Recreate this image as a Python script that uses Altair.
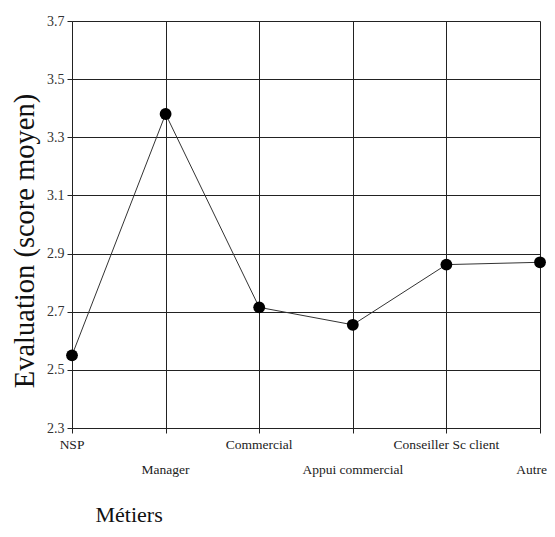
import altair as alt
import pandas as pd

categories = ["NSP", "Manager", "Commercial", "Appui commercial", "Conseiller Sc client", "Autre"]
scores = [2.55, 3.38, 2.715, 2.655, 2.862, 2.87]
label_row = [0, 1, 0, 1, 0, 1]
y_ticks = [2.3, 2.5, 2.7, 2.9, 3.1, 3.3, 3.5, 3.7]

df = pd.DataFrame({"metier": categories, "score": scores, "row": label_row})

W, H = 468, 407
FONT = "Liberation Serif"

x_enc = alt.X(
    "metier:N",
    sort=categories,
    scale=alt.Scale(type="point", padding=0, domain=categories),
    axis=alt.Axis(
        title="Métiers", labels=False, grid=True, gridColor="#222", gridWidth=1,
        tickSize=5, tickColor="#222", domainColor="#222",
        titleFont=FONT, titleFontSize=22, titleFontWeight="normal", titleColor="#111",
        titleX=23, titleY=93, titleAlign="left", titleAnchor="start",
        titleBaseline="alphabetic", titleAngle=0,
    ),
)
y_enc = alt.Y(
    "score:Q",
    scale=alt.Scale(domain=[2.3, 3.7], nice=False, zero=False),
    axis=alt.Axis(
        title="Evaluation (score moyen)", values=y_ticks, format=".1f", grid=True,
        gridColor="#222", gridWidth=1, tickSize=5, tickColor="#222", domainColor="#222",
        labelFont=FONT, labelFontSize=14, labelColor="#333", labelPadding=3,
        titleFont=FONT, titleFontSize=28.5, titleFontWeight="normal", titleColor="#111",
        titleX=-48, titleY=H / 2 + 16, titleAngle=-90, titleAlign="center", titleBaseline="middle",
    ),
)

base = alt.Chart(df)
line = base.mark_line(color="#333", strokeWidth=1).encode(x=x_enc, y=y_enc)
pts = base.mark_point(filled=True, color="black", size=140, opacity=1).encode(x=x_enc, y=y_enc)

txt_x = alt.X("metier:N", sort=categories)
lab_top = base.transform_filter("datum.row == 0").mark_text(
    font=FONT, fontSize=13.5, color="#222", baseline="alphabetic", align="center"
).encode(x=txt_x, y=alt.value(H + 21), text="metier:N")
lab_bot = base.transform_filter("datum.row == 1 && datum.metier != 'Autre'").mark_text(
    font=FONT, fontSize=13.5, color="#222", baseline="alphabetic", align="center"
).encode(x=txt_x, y=alt.value(H + 46), text="metier:N")
lab_last = base.transform_filter("datum.metier == 'Autre'").mark_text(
    font=FONT, fontSize=13.5, color="#222", baseline="alphabetic", align="right", dx=7
).encode(x=txt_x, y=alt.value(H + 46), text="metier:N")

chart = alt.layer(line, pts, lab_top, lab_bot, lab_last).properties(
    width=W, height=H,
    autosize=alt.AutoSizeParams(type="none"),
    padding={"left": 64, "top": 13, "right": 7, "bottom": 100},
).configure_view(stroke="transparent").configure(background="white")

chart.save("out.html", embed_options={"renderer": "svg", "actions": False})
